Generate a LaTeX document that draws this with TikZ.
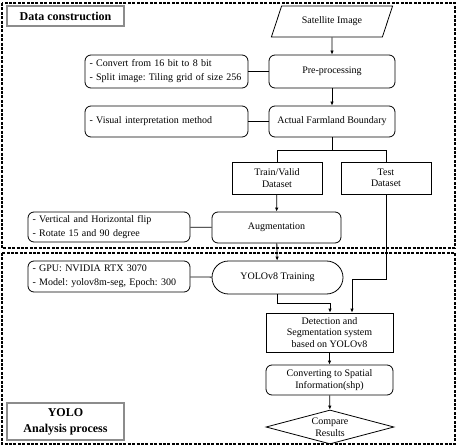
\documentclass[tikz,border=0pt]{standalone}
\usepackage{fontspec}
\setmainfont{Liberation Serif}
\usetikzlibrary{shapes.geometric,arrows.meta}
\frenchspacing
\begin{document}
\begin{tikzpicture}[x=1pt,y=-1pt,
  font=\fontsize{10}{11.5}\selectfont,
  line width=0.8pt,
  box/.style={draw, align=center, inner sep=1pt},
  rbox/.style={box, rounded corners=6pt},
  note/.style={draw, rounded corners=6pt, align=left, inner xsep=4.5pt, inner ysep=1pt, font=\fontsize{10}{14}\selectfont},
  lbl/.style={draw=gray!90, line width=1.1pt, align=center, inner sep=1pt},
  frame/.style={draw, line width=1.1pt, dash pattern=on 3pt off 1.4pt},
  arr/.style={-{Latex[length=4pt,width=3.5pt]}},
]
\useasboundingbox (0,0) rectangle (457,446);
% frames
\draw[frame] (2,3) rectangle (455,248);
\draw[frame] (2,253) rectangle (455,444);
% labels
\node[lbl, minimum width=117, minimum height=20, font=\fontsize{12}{14}\selectfont\bfseries] (dc) at (65.5,16) {Data construction};
\node[lbl, minimum width=117, minimum height=37, font=\fontsize{12}{16}\selectfont\bfseries] (yl) at (65.5,421.5) {YOLO\\Analysis process};
% main column
\node[draw, trapezium, trapezium left angle=56, trapezium right angle=124, trapezium stretches=true, minimum width=122, minimum height=31, inner sep=0pt] (sat) at (332,21.5) {Satellite Image};
\node[rbox, minimum width=126, minimum height=33] (pre) at (332,71.5) {Pre-processing};
\node[rbox, minimum width=126, minimum height=31] (afb) at (332,121.5) {Actual Farmland Boundary};
\node[box, minimum width=90, minimum height=32] (train) at (277,178) {Train/Valid\\Dataset};
\node[box, minimum width=90, minimum height=32] (test) at (386,178) {Test\\Dataset};
\node[rbox, minimum width=129, minimum height=31] (aug) at (276.5,227.5) {Augmentation};
\node[box, rounded corners=16.5pt, minimum width=131, minimum height=33] (yolo) at (277.5,277.5) {YOLOv8 Training};
\node[box, minimum width=127, minimum height=39] (det) at (329.5,332.5) {Detection and\\Segmentation system\\based on YOLOv8};
\node[rbox, minimum width=127, minimum height=30] (conv) at (329.5,380) {Converting to Spatial\\Information(shp)};
\node[draw, diamond, aspect=3.76, inner sep=0pt, minimum width=128, minimum height=34, align=center] (cmp) at (330,427) {Compare\\Results};
% notes
\node[note, text width=154, minimum height=33] (n1) at (166.5,71.5) {- Convert from 16 bit to 8 bit\\- Split image: Tiling grid of size 256};
\node[note, text width=154, minimum height=31] (n2) at (166.5,121.5) {- Visual interpretation method};
\node[note, text width=153, minimum height=30] (n3) at (109,227) {- Vertical and Horizontal flip\\- Rotate 15 and 90 degree};
\node[note, text width=153, minimum height=31] (n4) at (109,276.5) {- GPU: NVIDIA RTX 3070\\- Model: yolov8m-seg, Epoch: 300};
% connectors
\coordinate (split) at (332,150);
\coordinate (yb) at (277.5,303);
\coordinate (tb) at (386,279);
\draw[arr] (sat) -- (pre);
\draw[arr] (pre) -- (afb);
\draw (n1) -- (pre);
\draw (n2) -- (afb);
\draw (afb.south) -- (split);
\draw (split) -| (train.north);
\draw (split) -| (test.north);
\draw[arr] (train) -- (aug);
\draw[arr] (aug) -- (yolo);
\draw (n3) -- (aug);
\draw (n4) -- (yolo);
\draw[arr] (yolo.south) -- (yb) -| (det.north -| 330,0);
\draw[arr] (test.south) -- (tb) -| (det.north -| 352,0);
\draw[arr] (det) -- (conv);
\draw[arr] (conv) -- (cmp);
\end{tikzpicture}
\end{document}
